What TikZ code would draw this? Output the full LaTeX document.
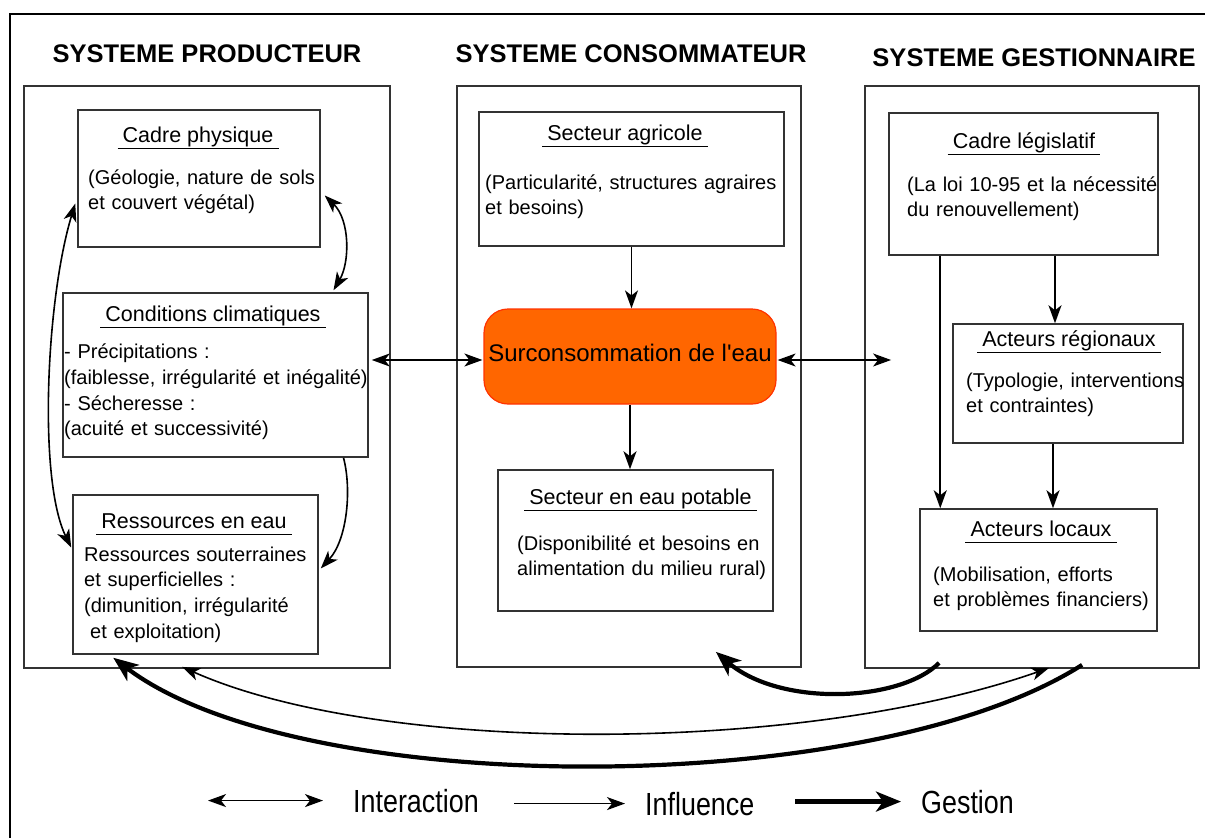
\documentclass[tikz,border=0pt]{standalone}
\usepackage{fontspec}
\setmainfont{Liberation Sans}
\usepackage{graphicx}
\usetikzlibrary{arrows.meta,calc}

\begin{document}
\begin{tikzpicture}[x=1pt,y=1pt,yscale=-1,xscale=1,
  frame/.style={draw={rgb, 255:red, 51; green, 51; blue, 51 }, line width=1.8pt, inner sep=0pt},
  box/.style={draw={rgb, 255:red, 51; green, 51; blue, 51 }, line width=1.5pt, inner sep=0pt},
  orangebox/.style={draw={rgb, 255:red, 255; green, 51; blue, 0 }, fill={rgb, 255:red, 255; green, 102; blue, 0 }, line width=1.2pt, rounded corners=24pt, inner sep=0pt, font=\fontsize{24}{28}\selectfont, text depth=8pt},
  head/.style={font=\bfseries\fontsize{25.5}{30}\selectfont, anchor=base, inner sep=0pt},
  ttl/.style={font=\fontsize{21.5}{26}\selectfont, anchor=base, inner xsep=5pt, inner ysep=0pt, text depth=6pt},
  txt/.style={font=\fontsize{20}{25.8}\selectfont, anchor=base west, inner sep=0pt, text width=340pt, align=left},
  uline/.style={line width=1.4pt},
  inter/.style={line width=1.6pt, {Stealth[length=18pt,width=13pt,inset=5pt]}-{Stealth[length=18pt,width=13pt,inset=5pt]}},
  infl/.style={line width=1.6pt, -{Stealth[length=18pt,width=13pt,inset=5pt]}},
  gest/.style={line width=4.2pt, -{Stealth[length=25pt,width=20pt,inset=7pt]}},
  lg/.style={font=\fontsize{32}{36}\selectfont, anchor=base west, inner sep=0pt}
]
    \useasboundingbox (0,0) rectangle (1205,838);
    
    %Shape: outer frame
    \draw [line width=1.8pt] (10,838) -- (10,14) -- (1205,14) ;
    
    %Shape: Rectangle (the three systems)
    \node [frame, minimum width=366pt, minimum height=582pt] (colP) at (207,377) {};
    \node [frame, minimum width=344pt, minimum height=581pt] (colC) at (629,376.5) {};
    \node [frame, minimum width=334pt, minimum height=582pt] (colG) at (1032,377) {};
    
    % Text Node
    \node [head] (hP) at (207,62) {SYSTEME PRODUCTEUR};
    % Text Node
    \node [head] (hC) at (631,62) {SYSTEME CONSOMMATEUR};
    % Text Node
    \node [head] (hG) at (1034,66) {SYSTEME GESTIONNAIRE};
    
    %Shape: Rectangle
    \node [box, minimum width=242pt, minimum height=137pt] (cadre) at (199,178.5) {};
    %Shape: Rectangle
    \node [box, minimum width=305pt, minimum height=164pt] (clim) at (215.5,375) {};
    %Shape: Rectangle
    \node [box, minimum width=245pt, minimum height=159pt] (ress) at (195.5,574.5) {};
    %Shape: Rectangle
    \node [box, minimum width=305pt, minimum height=134pt] (agri) at (631.5,179) {};
    %Shape: Rounded Rect
    \node [orangebox, minimum width=292pt, minimum height=95pt] (surc) at (630,356.5) {Surconsommation de l\textquotesingle eau};
    %Shape: Rectangle
    \node [box, minimum width=275pt, minimum height=141pt] (pota) at (635.5,540.5) {};
    %Shape: Rectangle
    \node [box, minimum width=269pt, minimum height=142pt] (legis) at (1023.5,184) {};
    %Shape: Rectangle
    \node [box, minimum width=230pt, minimum height=119pt] (regio) at (1068,383.5) {};
    %Shape: Rectangle
    \node [box, minimum width=237pt, minimum height=122pt] (locx) at (1038.5,570) {};
    
    % Text Node
    \node [ttl] (tCadre) at (198,142) {Cadre physique};
    \draw [uline] (tCadre.south west) -- (tCadre.south east) ;
    \node [txt] (bCadre) at (88,184) {(Géologie, nature de sols\\et couvert végétal)};
    % Text Node
    \node [ttl] (tClim) at (213,321) {Conditions climatiques};
    \draw [uline] (tClim.south west) -- (tClim.south east) ;
    \node [txt] (bClim) at (64,358.5) {- Précipitations :\\(faiblesse, irrégularité et inégalité)\\- Sécheresse :\\(acuité et successivité)};
    % Text Node
    \node [ttl] (tRess) at (194,528) {Ressources en eau};
    \draw [uline] (tRess.south west) -- (tRess.south east) ;
    \node [txt] (bRess) at (84,561) {Ressources souterraines\\et superficielles :\\(dimunition, irrégularité\\\hspace*{6pt}et exploitation)};
    % Text Node
    \node [ttl] (tAgri) at (625,140) {Secteur agricole};
    \draw [uline] (tAgri.south west) -- (tAgri.south east) ;
    \node [txt] (bAgri) at (485,189) {(Particularité, structures agraires\\et besoins)};
    % Text Node
    \node [ttl] (tPota) at (640.5,504) {Secteur en eau potable};
    \draw [uline] (tPota.south west) -- (tPota.south east) ;
    \node [txt] (bPota) at (517,550) {(Disponibilité et besoins en\\alimentation du milieu rural)};
    % Text Node
    \node [ttl] (tLegis) at (1024,148) {Cadre législatif};
    \draw [uline] (tLegis.south west) -- (tLegis.south east) ;
    \node [txt] (bLegis) at (907,191) {(La loi 10-95 et la nécessité\\du renouvellement)};
    % Text Node
    \node [ttl] (tRegio) at (1069,346) {Acteurs régionaux};
    \draw [uline] (tRegio.south west) -- (tRegio.south east) ;
    \node [txt] (bRegio) at (966,387) {(Typologie, interventions\\et contraintes)};
    % Text Node
    \node [ttl] (tLocx) at (1041,536) {Acteurs locaux};
    \draw [uline] (tLocx.south west) -- (tLocx.south east) ;
    \node [txt] (bLocx) at (933,581) {(Mobilisation, efforts\\et problèmes financiers)};
    
    %Curve Lines (producteur)
    \draw [inter] ($(cadre.east)+(4,17)$) .. controls (350,220) and (350,262) .. ($(clim.north)+(118,-2)$) ;
    \draw [infl] ($(clim.south)+(128,0)$) .. controls (352,490) and (347,540) .. ($(ress.east)+(2,-6)$) ;
    \draw [inter] ($(cadre.west)+(-2,25)$) .. controls (46,300) and (38,480) .. ($(ress.west)+(-1,-27)$) ;
    
    %Straight Lines
    \coordinate (gtip) at ($(colG.west)+(27,-17)$);
    \draw [inter] ($(clim.east)+(3,-15)$) -- ($(surc.west)+(-1,3.5)$) ;
    \draw [inter] ($(surc.east)+(1,3.5)$) -- (gtip) ;
    \draw [infl] (agri.south) -- (agri.south |- surc.north) ;
    \draw [infl] (surc.south) -- (surc.south |- pota.north) ;
    \draw [infl] ($(legis.south)+(31.5,0)$) -- ($(regio.north)+(-13,0)$) ;
    \draw [infl] ($(legis.south west)+(52,0)$) -- ($(locx.north west)+(21,0)$) ;
    \draw [infl] ($(regio.south)+(-15,0)$) -- ($(locx.north)+(14.5,0)$) ;
    
    %Curve Lines (bottom)
    \draw [gest] ($(colG.south west)+(75,-6)$) .. controls (900,702) and (780,707) .. ($(colC.south east)+(-86,-16)$) ;
    \draw [inter] ($(colP.south west)+(159,-2)$) .. controls (380,755) and (800,755) .. ($(colG.south west)+(185,-1)$) ;
    \draw [gest] ($(colG.south west)+(218,-4)$) .. controls (870,800) and (300,800) .. ($(ress.south west)+(41,3)$) ;
    
    % Legend
    \node [lg] (lgInter) at (353,812) {\scalebox{0.84}[1]{Interaction}};
    \node [lg] (lgInfl) at (645,815) {\scalebox{0.84}[1]{Influence}};
    \node [lg] (lgGest) at (921,813) {\scalebox{0.84}[1]{Gestion}};
    \draw [inter] ([xshift=-145pt]lgInter.west) -- ([xshift=-30pt]lgInter.west) ;
    \draw [infl] ([xshift=-131pt]lgInfl.west) -- ([xshift=-20pt]lgInfl.west) ;
    \draw [gest] ([xshift=-126pt]lgGest.west) -- ([xshift=-20pt]lgGest.west) ;
    
\end{tikzpicture}
\end{document}
